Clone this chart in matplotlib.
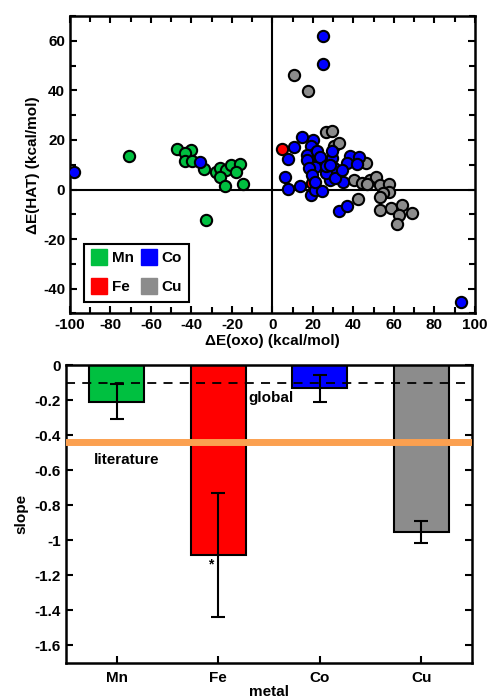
import matplotlib
matplotlib.use("Agg")
import matplotlib.pyplot as plt
from matplotlib.lines import Line2D
from matplotlib.ticker import MultipleLocator

plt.rcParams['font.family'] = ['Liberation Sans', 'DejaVu Sans']
plt.rcParams['font.weight'] = 'bold'
plt.rcParams['axes.unicode_minus'] = False

# ---------------- data: scatter ----------------
mn_x = [-71, -47.1, -40, -43, -43, -39.7, -33.6, -27.7, -26, -22.9, -20.4, -16.1, -18.1, -25.7, -23.7, -14.7, -32.7]
mn_y = [13.6, 16.3, 16, 14.7, 11.7, 11.6, 8.2, 7, 8.5, 8, 9.7, 10.1, 7.2, 4.9, 1.5, 2.2, -12.4]

fe_x = [4.8, 19.6]
fe_y = [16.3, 2.6]

cu_x = [10.4, 17.6, 26.2, 29.5, 30.3, 32.8, 46.4, 40.5, 44.3, 48.1, 50.9, 46.8, 53.3, 57.5, 57.5, 54.6,
        53.0, 42.1, 53.3, 58.3, 64.0, 62.4, 61.6, 69.0]
cu_y = [46.2, 39.8, 23.2, 23.6, 17.7, 18.7, 10.7, 3.9, 2.6, 3.9, 4.9, 2.2, 1.9, 2.2, -1.0, -1.5,
        -3.1, -3.9, -8.2, -7.5, -6.2, -10.2, -14.0, -9.5]

co_x = [-97.8, -35.9, 25, 25, 93.3, 14.7, 10.5, 7.6, 6.4, 7.6, 13.6, 18.8, 20.9, 24.5, 32.6, 36.7,
        34.6, 28.6, 38.5, 42.5, 36.9, 41.5, 20.1, 18.8, 20.4, 16.8, 17.1, 24.5, 29.5, 21.2, 17.9,
        30.3, 26.2, 19.6, 31.1, 22.0, 23.7, 26.2, 28.3, 29.5, 20.9, 34.4]
co_y = [6.9, 10.9, 61.8, 50.7, -45.6, 21.0, 17.2, 12.2, 4.9, 0.2, 1.6, -2.1, -0.1, -0.6, -8.5, -6.5,
        3.0, 4.0, 13.4, 13.3, 10.5, 10.2, 20.1, 17.4, 14.3, 14.0, 12.0, 11.3, 12.7, 8.9, 8.6,
        8.6, 6.6, 5.9, 4.6, 15.4, 13.3, 9.3, 10.0, 15.4, 3.2, 8.0]

# ---------------- data: bars ----------------
metals = ['Mn', 'Fe', 'Co', 'Cu']
slopes = [-0.21, -1.085, -0.133, -0.954]
errors = [0.10, 0.352, 0.078, 0.065]
global_slope = -0.105
literature_slope = -0.438
ytick_vals = [0, -0.2, -0.4, -0.6, -0.8, -1.0, -1.2, -1.4, -1.6]
ytick_labels = ['0', '-0.2', '-0.4', '-0.6', '-0.8', '-1', '-1.2', '-1.4', '-1.6']

colors = {'Mn': '#00C040', 'Fe': '#FF0000', 'Co': '#0000FF', 'Cu': '#8C8C8C'}
FS = 11

fig = plt.figure(figsize=(4.94, 6.98), dpi=100)

# ---------------- top scatter ----------------
ax1 = fig.add_axes([0.1417, 0.551, 0.8198, 0.426])
ax1.axhline(0, color='black', lw=1.5, zorder=1)
ax1.axvline(0, color='black', lw=1.5, zorder=1)
kw = dict(s=66, edgecolors='black', linewidths=1.5, zorder=3)
ax1.scatter(mn_x, mn_y, c=colors['Mn'], **kw)
ax1.scatter(fe_x, fe_y, c=colors['Fe'], **kw)
ax1.scatter(cu_x, cu_y, c=colors['Cu'], **kw)
ax1.scatter(co_x, co_y, c=colors['Co'], **kw)
ax1.set_xlim(-100, 100)
ax1.set_ylim(-50, 70)
ax1.xaxis.set_major_locator(MultipleLocator(20))
ax1.xaxis.set_minor_locator(MultipleLocator(10))
ax1.yaxis.set_major_locator(MultipleLocator(20))
ax1.yaxis.set_minor_locator(MultipleLocator(10))
ax1.tick_params(which='both', direction='in', top=True, right=True, width=1.5, labelsize=FS)
ax1.tick_params(which='major', length=5)
ax1.tick_params(which='minor', length=4)
for s in ax1.spines.values():
    s.set_linewidth(1.8)
ax1.set_xlabel('ΔE(oxo) (kcal/mol)', fontsize=FS, fontweight='bold', labelpad=1)
ax1.set_ylabel('ΔE(HAT) (kcal/mol)', fontsize=FS, fontweight='bold', labelpad=2)

handles = [Line2D([], [], marker='s', ls='', markersize=12, markerfacecolor=colors[m],
                  markeredgecolor=colors[m]) for m in ['Mn', 'Fe', 'Co', 'Cu']]
leg = ax1.legend(handles, ['Mn', 'Fe', 'Co', 'Cu'], ncol=2, loc='lower left',
                 bbox_to_anchor=(0.035, 0.038), borderaxespad=0, fancybox=False,
                 framealpha=1, edgecolor='black', fontsize=FS, labelspacing=1.0,
                 handlelength=1.0, handletextpad=0.3, columnspacing=0.5,
                 borderpad=0.5)
leg.get_frame().set_linewidth(1.5)

# ---------------- bottom bars ----------------
ax2 = fig.add_axes([0.133, 0.0506, 0.823, 0.4264])
xs = list(range(len(metals)))
ax2.bar(xs, slopes, width=0.54, color=[colors[m] for m in metals], edgecolor='black',
        linewidth=1.5, zorder=2)
ax2.errorbar(xs, slopes, yerr=errors, fmt='none', ecolor='black', elinewidth=1.5,
             capsize=5, capthick=1.5, zorder=4)
ax2.axhline(global_slope, color='black', lw=1.3, ls=(0, (5, 4)), zorder=3)
ax2.axhline(literature_slope, color='#FBA050', lw=5, zorder=3)
ax2.text(1.3, -0.19, 'global', fontsize=FS, fontweight='bold', ha='left', va='center')
ax2.text(-0.22, -0.545, 'literature', fontsize=FS, fontweight='bold', ha='left', va='center')
ax2.text(0.93, -1.14, '*', fontsize=10, fontweight='bold', ha='center', va='center')
ax2.set_xlim(-0.5, 3.5)
ax2.set_ylim(-1.7, 0)
ax2.set_xticks(xs)
ax2.set_xticklabels(metals)
ax2.set_yticks(ytick_vals)
ax2.set_yticklabels(ytick_labels)
ax2.tick_params(which='both', direction='in', top=True, right=True, width=1.5,
                length=5, labelsize=FS)
ax2.tick_params(axis='x', pad=6)
for s in ax2.spines.values():
    s.set_linewidth(1.8)
ax2.set_ylabel('slope', fontsize=FS, fontweight='bold', labelpad=4)
ax2.set_xlabel('metal', fontsize=FS, fontweight='bold', labelpad=0)

fig.savefig('out.png', dpi=100)
